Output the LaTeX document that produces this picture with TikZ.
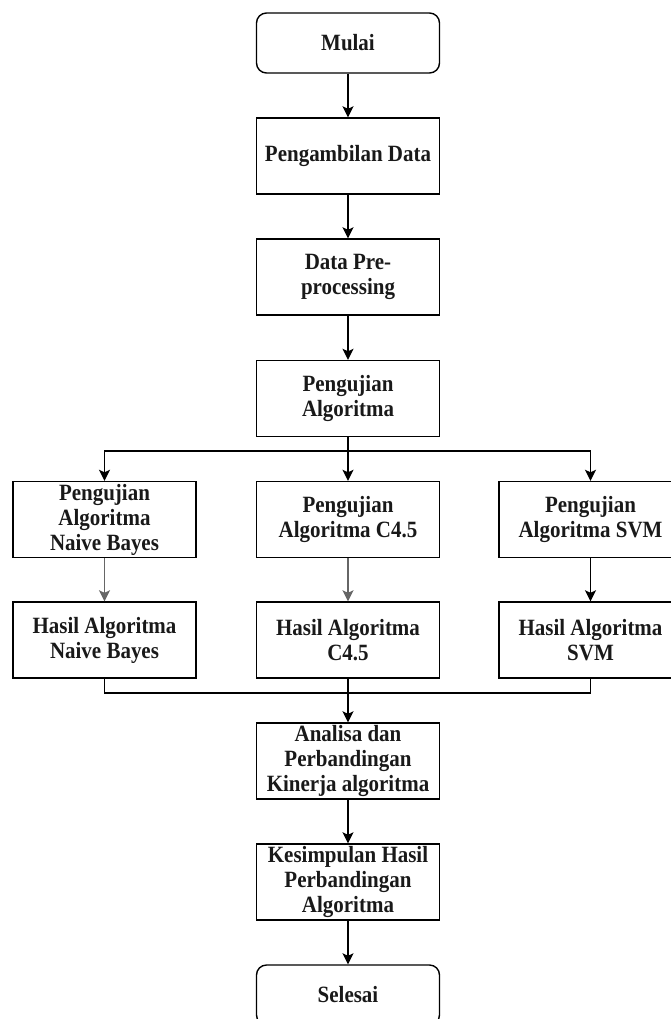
\documentclass[tikz,border=0pt]{standalone}
\usepackage{fontspec}
\setmainfont{Liberation Serif}[FakeStretch=0.9]
\usetikzlibrary{arrows.meta}
\begin{document}
\begin{tikzpicture}[x=1pt,y=-1pt,
  box/.style={draw, line width=1.4pt, minimum width=183pt, minimum height=76pt, align=center, inner sep=1pt, text=black!90,
    font=\fontsize{23.3}{25}\selectfont\bfseries},
  term/.style={box, rounded corners=10pt, minimum height=60pt},
  conn/.style={line width=1.4pt},
  arr/.style={conn, -{Stealth[length=11pt,width=11pt,inset=2.5pt]}},
  grayarr/.style={arr, draw=black!60}]
\useasboundingbox (0,0) rectangle (671,1019);
\clip (0,0) rectangle (671,1019);
\node[term] (start) at (348,43) {Mulai};
\node[box] (data) at (348,156) {Pengambilan Data};
\node[box] (pre) at (348,277) {Data Pre-\\processing};
\node[box] (uji) at (348,398.5) {Pengujian\\Algoritma};
\node[box] (nb) at (104.5,519.5) {Pengujian\\Algoritma\\Naive Bayes};
\node[box] (c45) at (348,519.5) {Pengujian\\Algoritma C4.5};
\node[box] (svm) at (590.5,519.5) {Pengujian\\Algoritma SVM};
\node[box] (hnb) at (104.5,640) {Hasil Algoritma\\Naive Bayes};
\node[box] (hc45) at (348,640) {Hasil Algoritma\\C4.5};
\node[box] (hsvm) at (590.5,640) {Hasil Algoritma\\SVM};
\node[box] (ana) at (348,761) {Analisa dan\\Perbandingan\\Kinerja algoritma};
\node[box] (kes) at (348,882) {Kesimpulan Hasil\\Perbandingan\\Algoritma};
\node[term] (end) at (348,995) {Selesai};
\coordinate (br) at (348,451);
\coordinate (mg) at (348,693);
\draw[arr] (start) -- (data);
\draw[arr] (data) -- (pre);
\draw[arr] (pre) -- (uji);
\draw[conn] (uji.south) -- (br);
\draw[arr] (br) -| (nb.north);
\draw[arr] (br) -| (svm.north);
\draw[arr] (br) -- (c45.north);
\draw[grayarr] (nb) -- (hnb);
\draw[grayarr] (c45) -- (hc45);
\draw[arr] (svm) -- (hsvm);
\draw[conn] (hnb.south) |- (mg) -| (hsvm.south);
\draw[arr] (hc45.south) -- (ana.north);
\draw[arr] (ana) -- (kes);
\draw[arr] (kes) -- (end);
\end{tikzpicture}
\end{document}
